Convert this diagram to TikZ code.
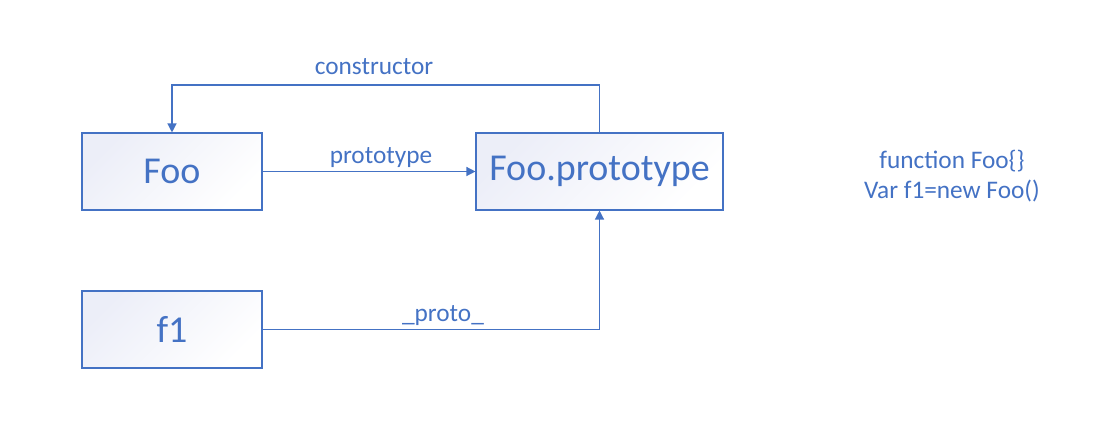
\documentclass[tikz,border=0pt]{standalone}
\usepackage{fontspec}
\setmainfont{Carlito}
\usetikzlibrary{arrows.meta}
\definecolor{acc}{HTML}{4472C4}
\definecolor{lav}{HTML}{ECEEF8}
\tikzset{
  box/.style={draw=acc, line width=1.1pt, top color=lav, bottom color=white, shading angle=45,
    minimum width=180pt, minimum height=77pt, inner sep=0pt, text=acc,
    font=\fontsize{38}{40}\selectfont},
  conn/.style={draw=acc, line width=1.3pt, -{Triangle[length=9pt,width=9pt]}},
  lbl/.style={text=acc, font=\fontsize{25.3}{30}\selectfont, inner sep=0pt}
}
\begin{document}
\begin{tikzpicture}[x=1pt,y=-1pt]
\useasboundingbox (0,0) rectangle (1112,435);
\node[box] (foo) at (172,171.5) {Foo};
\node[box, minimum width=247pt] (proto) at (599.5,171.5) {Foo.prototype};
\node[box] (f1) at (172,329.5) {f1};
\coordinate (c1) at (599.5,85);
\coordinate (c2) at (172,85);
\draw[conn] (foo.east) -- (proto.west);
\draw[conn] (proto.north) -- (c1) -- (c2) -- (foo.north);
\draw[conn] (f1.east) -| (proto.south);
\node[lbl] (lproto) at (381,158) {prototype};
\node[lbl] (lcons) at (374,67) {constructor};
\node[lbl] (l__) at (443,316) {\_proto\_};
\node[lbl, align=center] (code) at (952,176) {function Foo\{\}\\Var f1=new Foo()};
\end{tikzpicture}
\end{document}
